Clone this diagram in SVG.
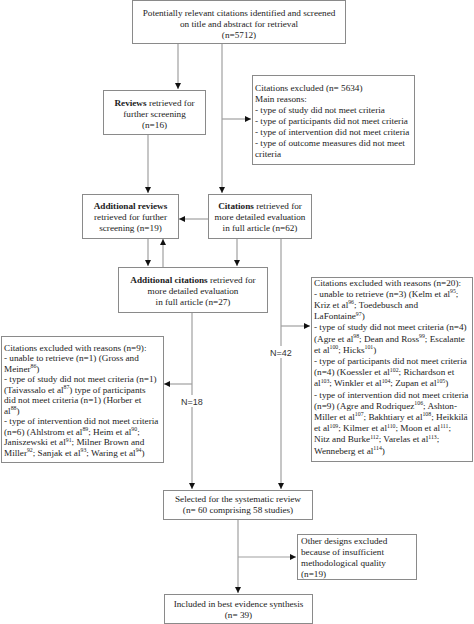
<svg xmlns="http://www.w3.org/2000/svg" width="474" height="624" viewBox="0 0 474 624">
<defs>
<marker id="ah" markerUnits="userSpaceOnUse" markerWidth="7" markerHeight="7" refX="6" refY="3" orient="auto">
<path d="M0,0 L6,3 L0,6 z" fill="#111"/>
</marker>
<style>
.box{fill:#fff;stroke:#8a8a8a;stroke-width:1}
.t{font-family:"Liberation Serif","Times New Roman",serif;font-size:9.2px;fill:#222}
.c{text-anchor:middle}
.b{font-weight:bold}
.s{font-size:5.8px}
.ln{fill:none;stroke:#a0a0a0;stroke-width:1.2}
.lab{font-family:"Liberation Sans",Arial,sans-serif;font-size:9px;fill:#333;text-anchor:middle}
</style>
</defs>
<rect width="474" height="624" fill="#fff"/>

<g id="connectors">
<path class="ln" d="M178,43 V89" marker-end="url(#ah)"/>
<path class="ln" d="M222,43 V193" marker-end="url(#ah)"/>
<path class="ln" d="M222,119 H251" marker-end="url(#ah)"/>
<path class="ln" d="M148,134 V193" marker-end="url(#ah)"/>
<path class="ln" d="M208,219 H179" marker-end="url(#ah)"/>
<path class="ln" d="M148,238 V266" marker-end="url(#ah)"/>
<path class="ln" d="M163,267 V239" marker-end="url(#ah)"/>
<path class="ln" d="M237,238 V266" marker-end="url(#ah)"/>
<path class="ln" d="M281,238 V489" marker-end="url(#ah)"/>
<path class="ln" d="M281,326 H310" marker-end="url(#ah)"/>
<path class="ln" d="M192,312 V489" marker-end="url(#ah)"/>
<path class="ln" d="M192,384 H164" marker-end="url(#ah)"/>
<path class="ln" d="M238,519 V593" marker-end="url(#ah)"/>
<path class="ln" d="M238,557 H296" marker-end="url(#ah)"/>
<rect x="270" y="346" width="23" height="12" fill="#fff"/>
<text class="lab" x="281" y="356">N=42</text>
<rect x="181" y="395" width="23" height="12" fill="#fff"/>
<text class="lab" x="192" y="405">N=18</text>
</g>

<g id="n-potential">
<rect class="box" x="132.5" y="0.5" width="213" height="43"/>
<text class="t c" x="239" y="16">Potentially relevant citations identified and screened</text>
<text class="t c" x="239" y="27">on title and abstract for retrieval</text>
<text class="t c" x="239" y="38">(n=5712)</text>
</g>

<g id="n-reviews">
<rect class="box" x="103.5" y="90.5" width="102" height="44"/>
<text class="t c" x="154.5" y="105.5"><tspan class="b">Reviews</tspan> retrieved for</text>
<text class="t c" x="154.5" y="116.5">further screening</text>
<text class="t c" x="154.5" y="127.5">(n=16)</text>
</g>

<g id="n-excluded1">
<rect class="box" x="252.5" y="75.5" width="162" height="89"/>
<text class="t" x="255" y="90.5">Citations excluded (n= 5634)</text>
<text class="t" x="255" y="101.5">Main reasons:</text>
<text class="t" x="255" y="112.5">- type of study did not meet criteria</text>
<text class="t" x="255" y="123.5">- type of participants did not meet criteria</text>
<text class="t" x="255" y="134.5">- type of intervention did not meet criteria</text>
<text class="t" x="255" y="145.5">- type of outcome measures did not meet</text>
<text class="t" x="255" y="156.5">criteria</text>
</g>

<g id="n-addreviews">
<rect class="box" x="82.5" y="194.5" width="96" height="44"/>
<text class="t c" x="130.5" y="208.5"><tspan class="b">Additional reviews</tspan></text>
<text class="t c" x="130.5" y="219.5">retrieved for further</text>
<text class="t c" x="130.5" y="230.5">screening (n=19)</text>
</g>

<g id="n-citations">
<rect class="box" x="208.5" y="194.5" width="103" height="44"/>
<text class="t c" x="260" y="208.5"><tspan class="b">Citations</tspan> retrieved for</text>
<text class="t c" x="260" y="219.5">more detailed evaluation</text>
<text class="t c" x="260" y="230.5">in full article (n=62)</text>
</g>

<g id="n-addcitations">
<rect class="box" x="118.5" y="267.5" width="149" height="45"/>
<text class="t c" x="193" y="282.5"><tspan class="b">Additional citations</tspan> retrieved for</text>
<text class="t c" x="193" y="293.5">more detailed evaluation</text>
<text class="t c" x="193" y="304.5">in full article (n=27)</text>
</g>

<g id="n-excluded9">
<rect class="box" x="1.5" y="336.5" width="162" height="126"/>
<text class="t" x="4" y="350.5">Citations excluded with reasons (n=9):</text>
<text class="t" x="4" y="361">- unable to retrieve (n=1) (Gross and</text>
<text class="t" x="4" y="371.5">Meiner<tspan class="s" dy="-3.5">86</tspan><tspan dy="3.5">)</tspan></text>
<text class="t" x="4" y="382">- type of study did not meet criteria (n=1)</text>
<text class="t" x="4" y="392.5">(Taivassalo et al<tspan class="s" dy="-3.5">87</tspan><tspan dy="3.5">) type of participants</tspan></text>
<text class="t" x="4" y="403">did not meet criteria (n=1) (Horber et</text>
<text class="t" x="4" y="413.5">al<tspan class="s" dy="-3.5">88</tspan><tspan dy="3.5">)</tspan></text>
<text class="t" x="4" y="424">- type of intervention did not meet criteria</text>
<text class="t" x="4" y="434.5">(n=6) (Ahlstrom et al<tspan class="s" dy="-3.5">89</tspan><tspan dy="3.5">; Heim et al</tspan><tspan class="s" dy="-3.5">90</tspan><tspan dy="3.5">;</tspan></text>
<text class="t" x="4" y="445">Janiszewski et al<tspan class="s" dy="-3.5">91</tspan><tspan dy="3.5">; Milner Brown and</tspan></text>
<text class="t" x="4" y="455.5">Miller<tspan class="s" dy="-3.5">92</tspan><tspan dy="3.5">; Sanjak et al</tspan><tspan class="s" dy="-3.5">93</tspan><tspan dy="3.5">; Waring et al</tspan><tspan class="s" dy="-3.5">94</tspan><tspan dy="3.5">)</tspan></text>
</g>

<g id="n-excluded20">
<rect class="box" x="311.5" y="277.5" width="161" height="184"/>
<text class="t" x="314" y="285.5">Citations excluded with reasons (n=20):</text>
<text class="t" x="314" y="296.7">- unable to retrieve (n=3) (Kelm et al<tspan class="s" dy="-3.5">95</tspan><tspan dy="3.5">;</tspan></text>
<text class="t" x="314" y="307.9">Kriz et al<tspan class="s" dy="-3.5">96</tspan><tspan dy="3.5">; Toedebusch and</tspan></text>
<text class="t" x="314" y="319.1">LaFontaine<tspan class="s" dy="-3.5">97</tspan><tspan dy="3.5">)</tspan></text>
<text class="t" x="314" y="330.3">- type of study did not meet criteria (n=4)</text>
<text class="t" x="314" y="341.5">(Agre et al<tspan class="s" dy="-3.5">98</tspan><tspan dy="3.5">; Dean and Ross</tspan><tspan class="s" dy="-3.5">99</tspan><tspan dy="3.5">; Escalante</tspan></text>
<text class="t" x="314" y="352.7">et al<tspan class="s" dy="-3.5">100</tspan><tspan dy="3.5">; Hicks</tspan><tspan class="s" dy="-3.5">101</tspan><tspan dy="3.5">)</tspan></text>
<text class="t" x="314" y="363.9">- type of participants did not meet criteria</text>
<text class="t" x="314" y="375.1">(n=4) (Koessler et al<tspan class="s" dy="-3.5">102</tspan><tspan dy="3.5">; Richardson et</tspan></text>
<text class="t" x="314" y="386.3">al<tspan class="s" dy="-3.5">103</tspan><tspan dy="3.5">; Winkler et al</tspan><tspan class="s" dy="-3.5">104</tspan><tspan dy="3.5">; Zupan et al</tspan><tspan class="s" dy="-3.5">105</tspan><tspan dy="3.5">)</tspan></text>
<text class="t" x="314" y="397.5">- type of intervention did not meet criteria</text>
<text class="t" x="314" y="408.7">(n=9) (Agre and Rodriquez<tspan class="s" dy="-3.5">106</tspan><tspan dy="3.5">; Ashton-</tspan></text>
<text class="t" x="314" y="419.9">Miller et al<tspan class="s" dy="-3.5">107</tspan><tspan dy="3.5">; Bakhtiary et al</tspan><tspan class="s" dy="-3.5">108</tspan><tspan dy="3.5">; Heikkilä</tspan></text>
<text class="t" x="314" y="431.1">et al<tspan class="s" dy="-3.5">109</tspan><tspan dy="3.5">; Kilmer et al</tspan><tspan class="s" dy="-3.5">110</tspan><tspan dy="3.5">; Moon et al</tspan><tspan class="s" dy="-3.5">111</tspan><tspan dy="3.5">;</tspan></text>
<text class="t" x="314" y="442.3">Nitz and Burke<tspan class="s" dy="-3.5">112</tspan><tspan dy="3.5">; Varelas et al</tspan><tspan class="s" dy="-3.5">113</tspan><tspan dy="3.5">;</tspan></text>
<text class="t" x="314" y="453.5">Wenneberg et al<tspan class="s" dy="-3.5">114</tspan><tspan dy="3.5">)</tspan></text>
</g>

<g id="n-selected">
<rect class="box" x="163.5" y="490.5" width="149" height="29"/>
<text class="t c" x="238" y="501.5">Selected for the systematic review</text>
<text class="t c" x="238" y="512.5">(n= 60 comprising 58 studies)</text>
</g>

<g id="n-other">
<rect class="box" x="297.5" y="534.5" width="119" height="45"/>
<text class="t" x="301" y="543.5">Other designs excluded</text>
<text class="t" x="301" y="554.5">because of insufficient</text>
<text class="t" x="301" y="565.5">methodological quality</text>
<text class="t" x="301" y="576.5">(n=19)</text>
</g>

<g id="n-included">
<rect class="box" x="164.5" y="594.5" width="148" height="29"/>
<text class="t c" x="238.5" y="606.5">Included in best evidence synthesis</text>
<text class="t c" x="238.5" y="617.5">(n= 39)</text>
</g>
</svg>
